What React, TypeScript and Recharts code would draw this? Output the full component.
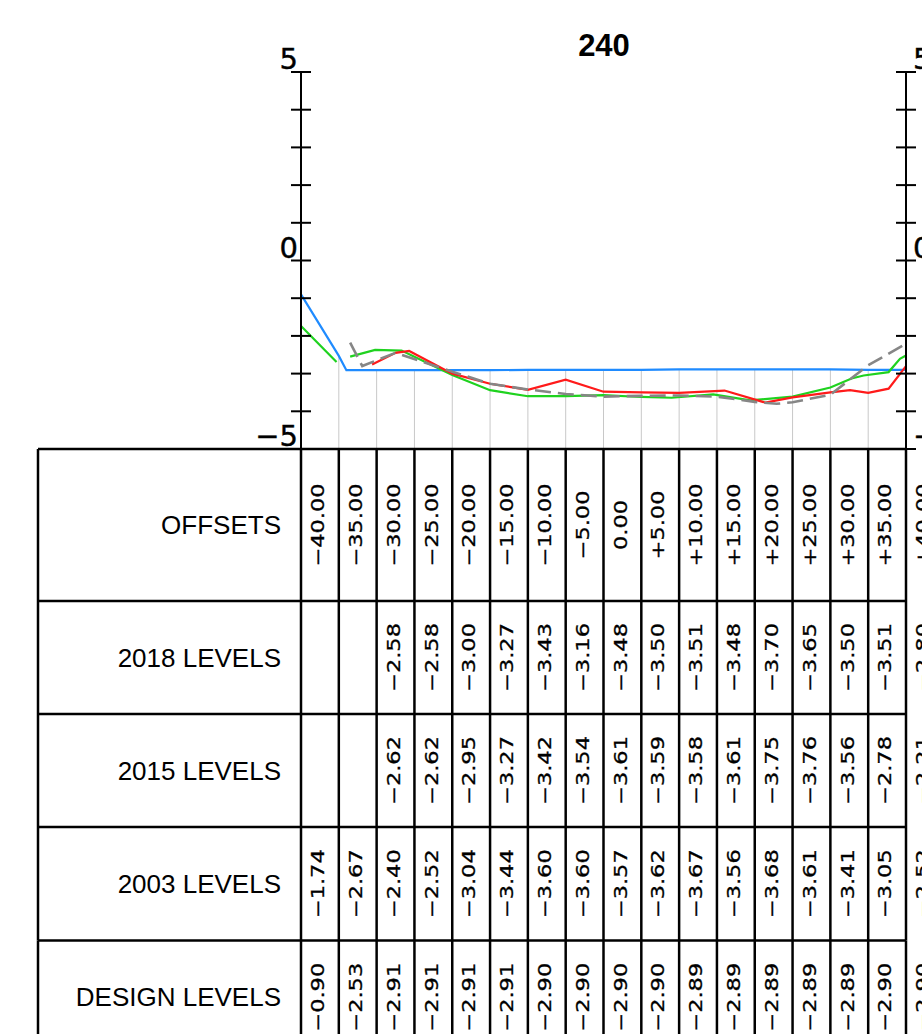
import React from 'react';
import { ComposedChart, Line, XAxis, YAxis, ReferenceLine } from 'recharts';

// table columns (offsets from centre line)
const OFFSETS = [-40, -35, -30, -25, -20, -15, -10, -5, 0, 5, 10, 15, 20, 25, 30, 35, 40];

// levels shown in the table
const LEVELS_2018 = [null, null, -2.58, -2.58, -3.0, -3.27, -3.43, -3.16, -3.48, -3.5, -3.51, -3.48, -3.7, -3.65, -3.5, -3.51, -2.8];
const LEVELS_2015 = [null, null, -2.62, -2.62, -2.95, -3.27, -3.42, -3.54, -3.61, -3.59, -3.58, -3.61, -3.75, -3.76, -3.56, -2.78, -2.21];
const LEVELS_2003 = [-1.74, -2.67, -2.4, -2.52, -3.04, -3.44, -3.6, -3.6, -3.57, -3.62, -3.67, -3.56, -3.68, -3.61, -3.41, -3.05, -2.52];
const LEVELS_DESIGN = [-0.9, -2.53, -2.91, -2.91, -2.91, -2.91, -2.9, -2.9, -2.9, -2.9, -2.89, -2.89, -2.89, -2.89, -2.89, -2.9, -2.9];

const PROFILE_DESIGN = [[-40, -0.9], [-35, -2.53], [-34, -2.91], [-30, -2.91], [-25, -2.91], [-20, -2.91], [-15, -2.91], [-10, -2.9], [-5, -2.9], [0, -2.9], [5, -2.9], [10, -2.89], [15, -2.89], [20, -2.89], [25, -2.89], [30, -2.89], [35, -2.9], [40, -2.9]];
const PROFILE_2003 = [[-40, -1.74], [-35.3, -2.69], [-34.4, null], [-33.5, -2.55], [-30.2, -2.37], [-26.7, -2.39], [-20, -3.04], [-15, -3.44], [-10, -3.6], [-5, -3.6], [0, -3.57], [5, -3.62], [9, -3.64], [14.5, -3.55], [19.4, -3.71], [25, -3.61], [30, -3.37], [32.8, -3.13], [34.4, -3.05], [37.7, -2.96], [39.2, -2.61], [40, -2.52]];
const PROFILE_2018 = [[-30.6, -2.76], [-27.5, -2.45], [-25.7, -2.4], [-20, -3.0], [-15, -3.27], [-10, -3.43], [-5, -3.16], [0, -3.48], [5, -3.5], [10, -3.51], [16, -3.45], [21.4, -3.77], [25, -3.63], [30, -3.5], [32.6, -3.44], [35, -3.51], [37.7, -3.4], [40, -2.8]];
const PROFILE_2015 = [[-33.5, -2.18], [-31.9, -2.8], [-27.5, -2.45], [-20, -2.95], [-15, -3.27], [-10, -3.42], [-5, -3.54], [0, -3.61], [5, -3.59], [10, -3.58], [15, -3.61], [20, -3.75], [22.9, -3.8], [25, -3.76], [30, -3.56], [35, -2.78], [40, -2.21]];

const Y_TICKS = [-5, -4, -3, -2, -1, 0, 1, 2, 3, 4, 5];

const W = 1000;
const H = 1060;
const MARGIN = { top: 72, right: 93, bottom: 6, left: 300 };
const AXIS_W = 1;
const PLOT_RIGHT = W - MARGIN.right - AXIS_W;
const TABLE_LEFT = 38;
const TEXT_DX = 17;

const fmtOffset = (v: number) => (v === 0 ? '0.00' : (v < 0 ? '\u2212' : '+') + Math.abs(v).toFixed(2));
const fmtLevel = (v: number | null) => (v == null ? '' : (v < 0 ? '\u2212' : '') + Math.abs(v).toFixed(2));
const fmtAxis = (v: number) => (v < 0 ? '\u2212' : '') + Math.abs(v);

const toPoints = (p: (number | null)[][]) => p.map(([x, y]) => ({ x, y }));

// axis ids sort in row order (recharts stacks bottom axes by id)
const ROWS = [
  { id: 'row0', label: 'OFFSETS', height: 152, levels: null as (number | null)[] | null, values: OFFSETS.map(fmtOffset) },
  { id: 'row1', label: '2018 LEVELS', height: 113, levels: LEVELS_2018, values: LEVELS_2018.map(fmtLevel) },
  { id: 'row2', label: '2015 LEVELS', height: 113, levels: LEVELS_2015, values: LEVELS_2015.map(fmtLevel) },
  { id: 'row3', label: '2003 LEVELS', height: 113.5, levels: LEVELS_2003, values: LEVELS_2003.map(fmtLevel) },
  { id: 'row4', label: 'DESIGN LEVELS', height: 113.5, levels: LEVELS_DESIGN, values: LEVELS_DESIGN.map(fmtLevel) },
];

const makeRowTick = (row: typeof ROWS[number], last: boolean) => (props: any) => {
  const { x, y, index } = props;
  const text = row.values[index];
  const cy = y + row.height / 2;
  return (
    <g>
      {index === 0 && (
        <g>
          <line x1={TABLE_LEFT} y1={y} x2={PLOT_RIGHT} y2={y} stroke="#000" strokeWidth={2.5} />
          {last && <line x1={TABLE_LEFT} y1={y + row.height} x2={PLOT_RIGHT} y2={y + row.height} stroke="#000" strokeWidth={2.5} />}
          <line x1={TABLE_LEFT} y1={y} x2={TABLE_LEFT} y2={y + row.height} stroke="#000" strokeWidth={2.5} />
          <text x={x - 20} y={cy} textAnchor="end" dominantBaseline="central" fontFamily="Liberation Sans, Arial, sans-serif" fontSize={26} fill="#000">
            {row.label}
          </text>
        </g>
      )}
      <line x1={x} y1={y} x2={x} y2={y + row.height} stroke="#000" strokeWidth={2.5} />
      {text && (
        <text
          transform={`translate(${x + TEXT_DX} ${cy}) rotate(-90) scale(1.25 1)`}
          textAnchor="middle"
          dominantBaseline="central"
          fontFamily="DejaVu Sans, sans-serif"
          fontSize={18}
          fill="#000"
          stroke="#000"
          strokeWidth={0.3}
        >
          {text}
        </text>
      )}
    </g>
  );
};

const LeftTick = (props: any) => {
  const { x, y, payload } = props;
  const v = payload.value;
  return (
    <g>
      <line x1={x - 10} y1={y} x2={x + 10} y2={y} stroke="#000" strokeWidth={2} />
      {v % 5 === 0 && (
        <text x={x - 3} y={y - 3} textAnchor="end" fontFamily="DejaVu Sans, sans-serif" fontSize={29} fill="#000" stroke="#000" strokeWidth={0.4}>
          {fmtAxis(v)}
        </text>
      )}
    </g>
  );
};

const RightTick = (props: any) => {
  const { x, y, payload } = props;
  const v = payload.value;
  return (
    <g>
      <line x1={x - 10} y1={y} x2={x + 10} y2={y} stroke="#000" strokeWidth={2} />
      {v % 5 === 0 && (
        <text x={x + 7} y={y - 3} textAnchor="start" fontFamily="DejaVu Sans, sans-serif" fontSize={29} fill="#000" stroke="#000" strokeWidth={0.4}>
          {fmtAxis(v)}
        </text>
      )}
    </g>
  );
};

const App = () => (
  <div style={{ position: 'absolute', left: 0, top: 0, width: 922, height: 1034, overflow: 'hidden', background: '#fff' }}>
    <div
      style={{
        position: 'absolute',
        left: 504,
        width: 200,
        top: 30,
        textAlign: 'center',
        fontFamily: 'Liberation Sans, Arial, sans-serif',
        fontWeight: 'bold',
        fontSize: 31,
        lineHeight: '31px',
      }}
    >
      240
    </div>
    <ComposedChart width={W} height={H} margin={MARGIN}>
      {ROWS.map((row, i) => (
        <XAxis
          key={row.id}
          xAxisId={row.id}
          dataKey="x"
          type="number"
          domain={[-40, 40]}
          ticks={OFFSETS}
          interval={0}
          height={row.height}
          tickSize={0}
          tickMargin={0}
          tickLine={false}
          axisLine={false}
          tick={makeRowTick(row, i === ROWS.length - 1)}
        />
      ))}
      <YAxis
        yAxisId="l"
        type="number"
        domain={[-5, 5]}
        ticks={Y_TICKS}
        interval={0}
        width={AXIS_W}
        tickSize={0}
        tickMargin={0}
        tickLine={false}
        axisLine={{ stroke: '#000', strokeWidth: 2 }}
        tick={LeftTick}
      />
      <YAxis
        yAxisId="r"
        orientation="right"
        type="number"
        domain={[-5, 5]}
        ticks={Y_TICKS}
        interval={0}
        width={AXIS_W}
        tickSize={0}
        tickMargin={0}
        tickLine={false}
        axisLine={{ stroke: '#000', strokeWidth: 2 }}
        tick={RightTick}
      />
      {/* invisible series so each table row axis and the right axis get a scale */}
      {ROWS.filter((r) => r.levels).map((row) => (
        <Line
          key={`h-${row.id}`}
          xAxisId={row.id}
          yAxisId="r"
          data={OFFSETS.map((o, i) => ({ x: o, y: row.levels![i] }))}
          dataKey="y"
          stroke="none"
          dot={false}
          activeDot={false}
          legendType="none"
          isAnimationActive={false}
        />
      ))}
      {OFFSETS.slice(1, -1).map((o, i) => (
        <ReferenceLine
          key={o}
          xAxisId="row0"
          yAxisId="l"
          segment={[{ x: o, y: -5 }, { x: o, y: LEVELS_DESIGN[i + 1] }]}
          stroke="#c8c8c8"
          strokeWidth={1}
        />
      ))}
      <Line xAxisId="row0" yAxisId="l" data={toPoints(PROFILE_DESIGN)} dataKey="y" type="linear" stroke="#1f8bff" strokeWidth={2.2} dot={false} isAnimationActive={false} />
      <Line xAxisId="row0" yAxisId="l" data={toPoints(PROFILE_2003)} dataKey="y" type="linear" stroke="#1fd21f" strokeWidth={2.2} dot={false} connectNulls={false} isAnimationActive={false} />
      <Line xAxisId="row0" yAxisId="l" data={toPoints(PROFILE_2018)} dataKey="y" type="linear" stroke="#ff1a1a" strokeWidth={2.2} dot={false} isAnimationActive={false} />
      <Line xAxisId="row0" yAxisId="l" data={toPoints(PROFILE_2015)} dataKey="y" type="linear" stroke="#868686" strokeWidth={2.6} strokeDasharray="16 7" dot={false} isAnimationActive={false} />
    </ComposedChart>
  </div>
);

export default App;
